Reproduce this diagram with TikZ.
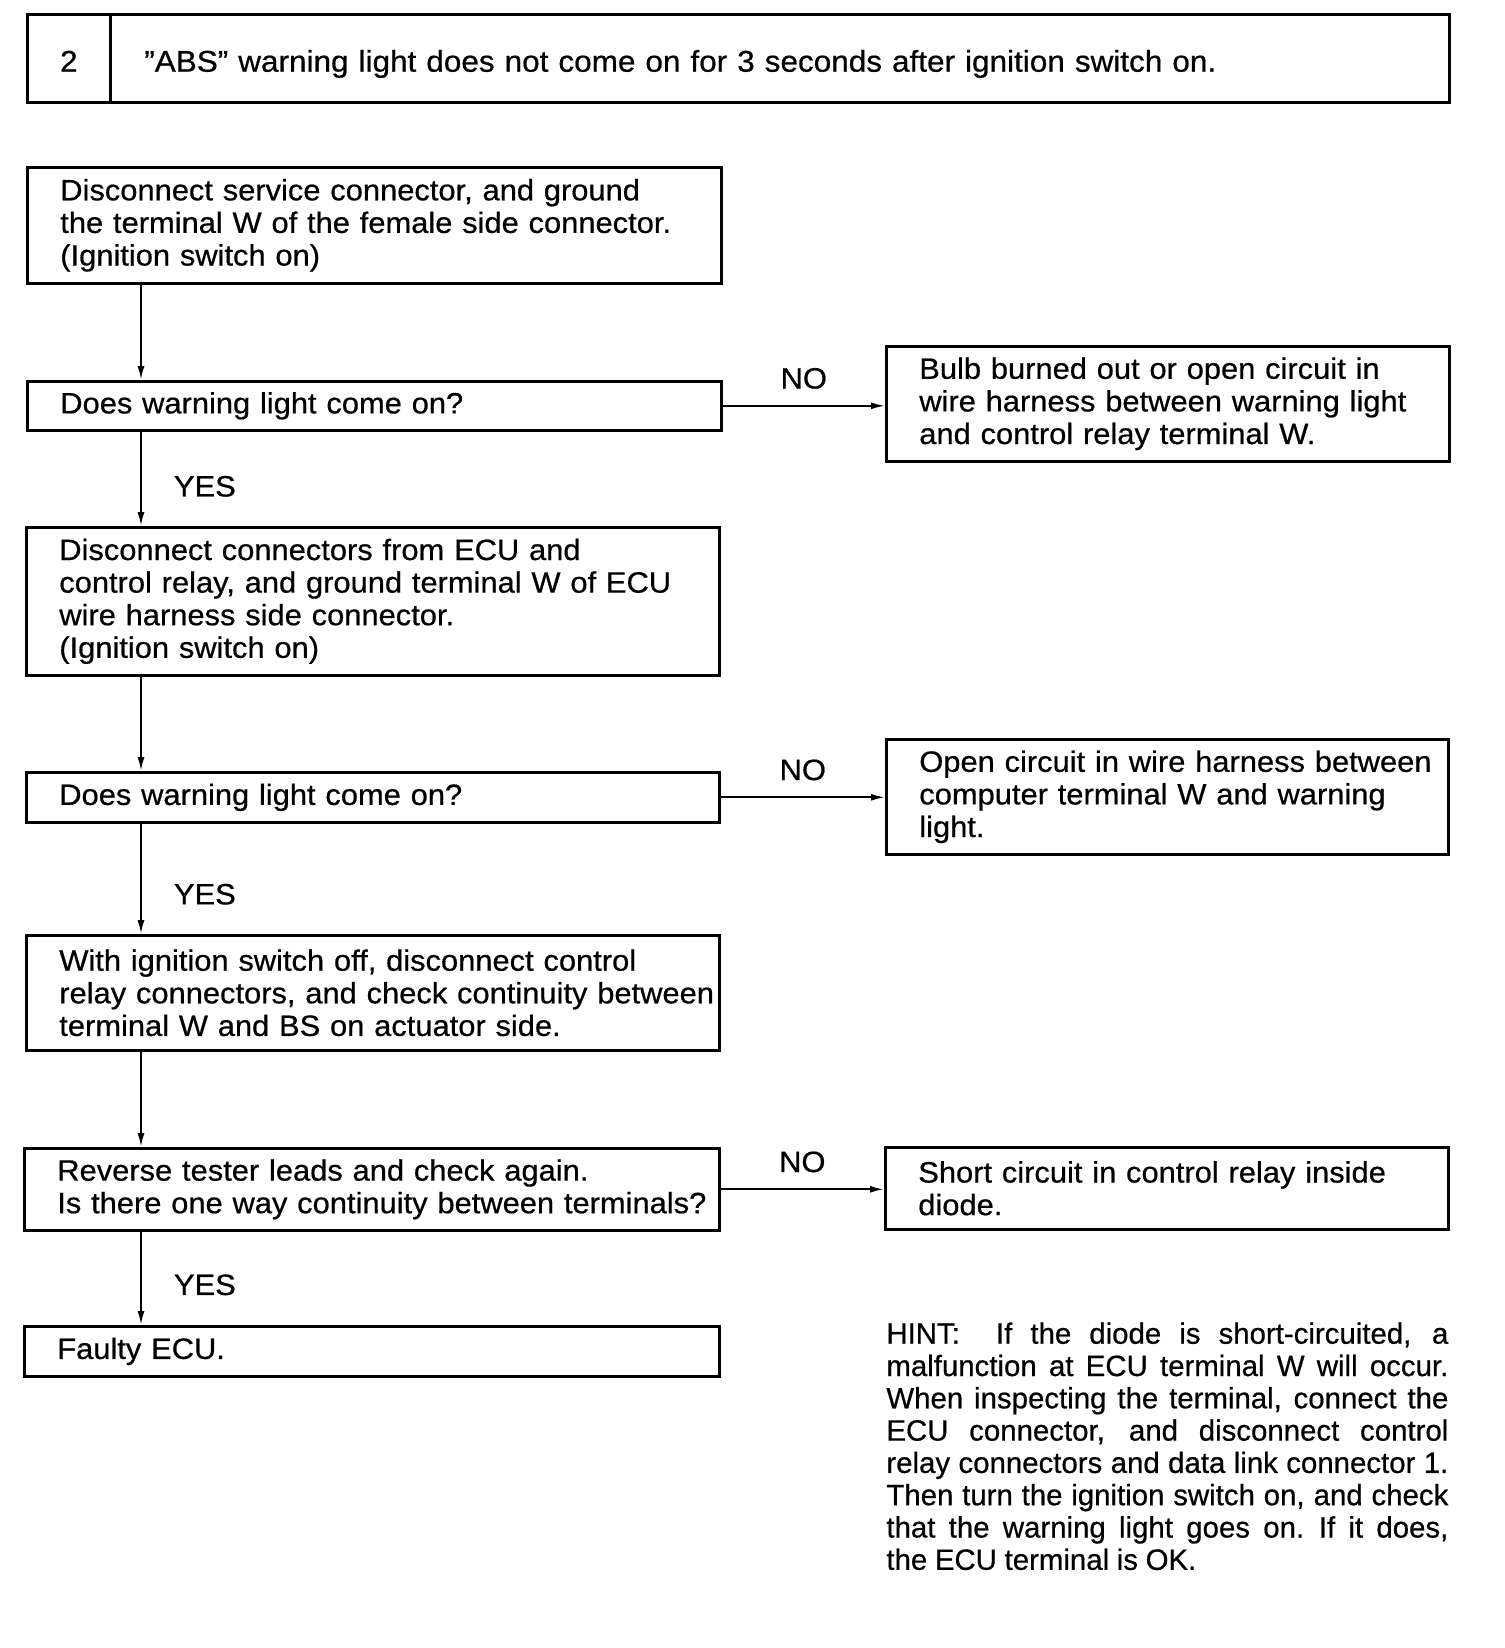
\documentclass[tikz,border=0pt]{standalone}
\usepackage{fontspec}
\setmainfont{Liberation Sans}[FakeStretch=1.05, FakeBold=0.6]
\newfontfamily\hintfont{Liberation Sans}[FakeStretch=1.0, FakeBold=0.6]
\usetikzlibrary{arrows.meta}
\newcommand{\hintspacing}{\spaceskip=0.26em plus 1em minus 0.05em\relax}

\tikzset{
  box/.style={draw, line width=1.3pt, anchor=north west, align=left,
    inner xsep=16.5pt, inner ysep=0pt},
  head/.style={box, text height=13.4pt, text depth=0pt, minimum height=44pt,
    font=\fontsize{15pt}{16.3pt}\selectfont},
  conn/.style={line width=1pt, -{Latex[length=7pt,width=3.5pt]}},
  yes/.style={right=16pt, inner sep=0pt},
  no/.style={above=8pt, inner sep=0pt},
}

\begin{document}
\begin{tikzpicture}[x=0.5pt, y=-0.5pt, font=\fontsize{14.7pt}{16.3pt}\selectfont]
\useasboundingbox (0,0) rectangle (1504,1648);
% title bar
\node[head, inner xsep=0pt, minimum width=41.5pt] (num) at (26,13) {2};
\node[head, inner xsep=17pt, text width=635.5pt] (title) at (109,13)
  {"ABS" warning light does not come on for 3 seconds after ignition switch on.};
% left column
\node[box, text width=314pt, minimum height=58pt] (b1) at (26,166)
  {Disconnect service connector, and ground\\the terminal W of the female side connector.\\(Ignition switch on)};
\node[box, text width=314pt, minimum height=24.5pt] (q1) at (26,380)
  {Does warning light come on?};
\node[box, text width=313.5pt, minimum height=74pt] (b2) at (25,526)
  {Disconnect connectors from ECU and\\control relay, and ground terminal W of ECU\\wire harness side connector.\\(Ignition switch on)};
\node[box, text width=313.5pt, minimum height=25pt] (q2) at (25,771)
  {Does warning light come on?};
\node[box, text width=313.5pt, minimum height=57.5pt] (b3) at (25,934)
  {With ignition switch off, disconnect control\\\mbox{relay connectors, and check continuity between}\\terminal W and BS on actuator side.};
\node[box, text width=314.5pt, minimum height=41pt] (q3) at (23,1147)
  {Reverse tester leads and check again.\\\mbox{Is there one way continuity between terminals?}};
\node[box, text width=314.5pt, minimum height=25pt] (f) at (23,1325)
  {Faulty ECU.};
% right column
\node[box, text width=248.5pt, minimum height=57.5pt] (n1) at (885,345)
  {Bulb burned out or open circuit in\\wire harness between warning light\\and control relay terminal W.};
\node[box, text width=248pt, minimum height=57.5pt] (n2) at (885,738)
  {\mbox{Open circuit in wire harness between}\\computer terminal W and warning\\light.};
\node[box, text width=248.5pt, minimum height=41pt] (n3) at (884,1146)
  {Short circuit in control relay inside\\diode.};
% hint
\node[anchor=north west, inner sep=0pt, text width=281pt, align=left,
  font=\hintfont\fontsize{14.7pt}{16.15pt}\selectfont] (hint) at (886,1322)
  {\hintspacing
   \makebox[281pt][s]{HINT:\ \ If the diode is short-circuited, a}\\
   \makebox[281pt][s]{malfunction at ECU terminal W will occur.}\\
   \makebox[281pt][s]{When inspecting the terminal, connect the}\\
   \makebox[281pt][s]{ECU connector, and disconnect control}\\
   \makebox[281pt][s]{relay connectors and data link connector 1.}\\
   \makebox[281pt][s]{Then turn the ignition switch on, and check}\\
   \makebox[281pt][s]{that the warning light goes on. If it does,}\\
   the ECU terminal is OK.};
% connectors
\coordinate (sp) at (141,0);
\draw[conn] (b1.south -| sp) -- (q1.north -| sp);
\draw[conn] (q1.south -| sp) -- node[yes, pos=0.58] {YES} (b2.north -| sp);
\draw[conn] (b2.south -| sp) -- (q2.north -| sp);
\draw[conn] (q2.south -| sp) -- node[yes, pos=0.64] {YES} (b3.north -| sp);
\draw[conn] (b3.south -| sp) -- (q3.north -| sp);
\draw[conn] (q3.south -| sp) -- node[yes, pos=0.57] {YES} (f.north -| sp);
\draw[conn] (q1.east) -- node[no] {NO} (q1.east -| n1.west);
\draw[conn] (q2.east) -- node[no] {NO} (q2.east -| n2.west);
\draw[conn] (q3.east) -- node[no] {NO} (q3.east -| n3.west);
\end{tikzpicture}
\end{document}
